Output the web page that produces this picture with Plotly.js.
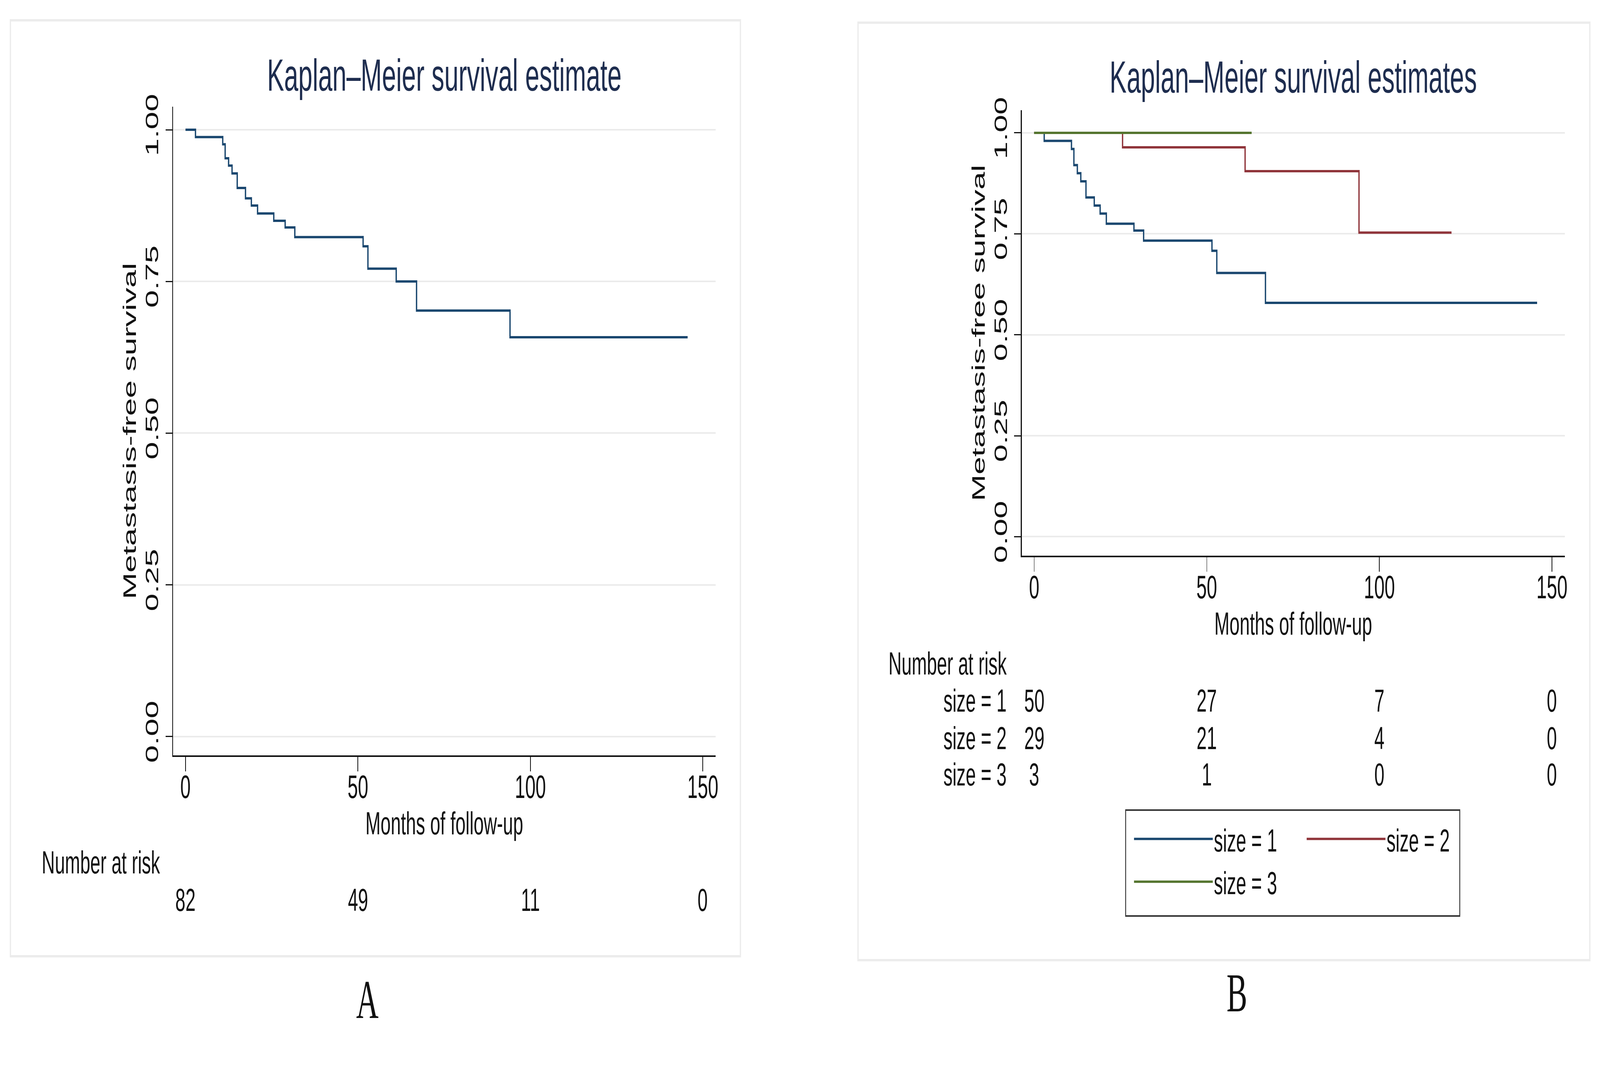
<!DOCTYPE html>
<html>
<head>
<meta charset="utf-8">
<script src="https://cdn.plot.ly/plotly-3.0.1.min.js"></script>
<style>
html,body{margin:0;padding:0;background:#ffffff;overflow:hidden}
#root{position:absolute;left:0;top:0;width:7211px;height:2733px;transform-origin:0 0;background:#ffffff}
#panelA{position:absolute;left:0;top:0;width:3605px;height:2733px}
#panelB{position:absolute;left:3605px;top:0;width:3606px;height:2733px}
</style>
</head>
<body>
<div id="root">
<div id="panelA"></div>
<div id="panelB"></div>
</div>
<script>
// ---------- data ----------
const xTicks = [0, 50, 100, 150];
const xTickText = ['0', '50', '100', '150'];
const yTicks = [0, 0.25, 0.5, 0.75, 1];
const yTickText = ['0.00', '0.25', '0.50', '0.75', '1.00'];

// Panel A: overall Kaplan-Meier estimate
const timeAll = [0, 2.9, 10.8, 11.5, 12.5, 13.5, 15.0, 17.4, 19.1, 20.9, 25.6, 28.9, 31.7, 51.5, 52.9, 61.1, 67.0, 94.1, 145.6];
const survAll = [1, 0.988, 0.976, 0.953, 0.941, 0.928, 0.904, 0.887, 0.875, 0.862, 0.850, 0.839, 0.823, 0.808, 0.771, 0.750, 0.702, 0.658, 0.658];
const riskAll = [82, 49, 11, 0];

// Panel B: by size
const timeSize1 = [0, 2.9, 10.8, 11.5, 12.5, 13.5, 15.0, 17.4, 19.1, 20.9, 28.9, 31.7, 51.5, 52.9, 67.0, 145.7];
const survSize1 = [1, 0.98, 0.96, 0.92, 0.90, 0.88, 0.84, 0.82, 0.80, 0.775, 0.758, 0.733, 0.708, 0.653, 0.579, 0.579];
const timeSize2 = [0, 25.6, 61.1, 94.1, 120.9];
const survSize2 = [1, 0.964, 0.905, 0.753, 0.753];
const timeSize3 = [0, 63.0];
const survSize3 = [1, 1];
const groupNames = ['size = 1', 'size = 2', 'size = 3'];
const riskSize1 = [50, 27, 7, 0];
const riskSize2 = [29, 21, 4, 0];
const riskSize3 = [3, 1, 0, 0];

// ---------- fit the 7211x2733 design into the actual window ----------
(function fit() {
  const W = window.innerWidth || 7211, H = window.innerHeight || 2733;
  const sx = W / 7211, sy = H / 2733;
  if (Math.abs(sx - 1) > 0.002 || Math.abs(sy - 1) > 0.002) {
    document.getElementById('root').style.transform = 'scale(' + sx + ',' + sy + ')';
  }
})();

// ---------- styling ----------
const FONT = 'Liberation Sans, Arial, Helvetica, sans-serif';
const TXT = '#111111';
const TITLE_COL = '#1e2d4f';
const C1 = '#1a476f', C2 = '#90353b', C3 = '#55752f';

function xAxis() {
  return {
    range: [-3.6, 153.7], tickmode: 'array', tickvals: xTicks, ticktext: xTickText,
    ticks: 'outside', ticklen: 37, tickwidth: 3, tickcolor: TXT, ticklabelstandoff: -33,
    showline: true, linewidth: 4, linecolor: TXT, showgrid: false, zeroline: false,
    tickfont: {family: FONT, size: 84, color: TXT},
    title: {text: 'Months of follow-up', font: {family: FONT, size: 82, color: TXT}, standoff: 20},
    automargin: false, fixedrange: true
  };
}
function yAxis(range) {
  return {
    range: range, tickmode: 'array', tickvals: yTicks, ticktext: yTickText, tickangle: -90,
    ticks: 'outside', ticklen: 30, tickwidth: 3, tickcolor: TXT,
    showline: true, linewidth: 4, linecolor: TXT,
    showgrid: true, gridcolor: '#ebebeb', gridwidth: 4, zeroline: false,
    tickfont: {family: FONT, size: 82, color: TXT},
    title: {text: 'Metastasis-free survival', font: {family: FONT, size: 82, color: TXT}, standoff: 0},
    automargin: false, fixedrange: true
  };
}
function ann(xref, x, y, text, xanchor, size, fam) {
  return {xref: xref, yref: 'paper', x: x, y: y, text: text, showarrow: false,
          xanchor: xanchor, yanchor: 'middle',
          font: {family: fam || FONT, size: size || 82, color: TXT}};
}
function border(x0, x1, y0, y1) {
  return {type: 'rect', xref: 'paper', yref: 'paper', x0: x0, x1: x1, y0: y0, y1: y1,
          line: {color: '#ececec', width: 6}, fillcolor: 'rgba(0,0,0,0)', layer: 'below'};
}

// ---------- Panel A ----------
const annA = [ann('paper', -0.243, -0.1645, 'Number at risk', 'left')];
riskAll.forEach((v, i) => annA.push(ann('x', xTicks[i], -0.2223, String(v), 'center')));
annA.push(ann('paper', 0.3579, -0.376, 'A', 'center', 140, 'Liberation Serif, Times New Roman, serif'));

Plotly.newPlot('panelA', [{
  x: timeAll, y: survAll, type: 'scatter', mode: 'lines',
  line: {shape: 'hv', color: C1, width: 6}, showlegend: false, hoverinfo: 'skip'
}], {
  width: 3605, height: 2733,
  margin: {l: 780, r: 380, t: 273, b: 800, pad: 0},
  paper_bgcolor: '#ffffff', plot_bgcolor: '#ffffff',
  font: {family: FONT, color: TXT},
  title: {text: 'Kaplan\u2013Meier survival estimate', font: {family: FONT, size: 115, color: TITLE_COL},
          x: 0.5, xref: 'paper', xanchor: 'center', y: 1 - 192 / 2733, yref: 'container', yanchor: 'middle'},
  xaxis: xAxis(), yaxis: yAxis([-0.031, 1.038]),
  showlegend: false,
  annotations: annA,
  shapes: [border(-0.2998, 1.0458, -0.3096, 1.1331)]
}, {displayModeBar: false, staticPlot: true});

// ---------- Panel B ----------
const annB = [ann('paper', -0.2464, -0.2421, 'Number at risk', 'left')];
const rowsY = [-0.3246, -0.4088, -0.4912];
[riskSize1, riskSize2, riskSize3].forEach((row, r) => {
  annB.push(ann('paper', -0.027, rowsY[r], groupNames[r], 'right'));
  row.forEach((v, i) => annB.push(ann('x', xTicks[i], rowsY[r], String(v), 'center')));
});
annB.push(ann('paper', 0.3964, -0.981, 'B', 'center', 140, 'Liberation Serif, Times New Roman, serif'));

const legStyle = (x) => ({x: x, y: -0.5833, xanchor: 'left', yanchor: 'top', orientation: 'v',
  bgcolor: 'rgba(0,0,0,0)', borderwidth: 0, itemwidth: 355, tracegroupgap: 0,
  font: {family: FONT, size: 82, color: TXT}});

Plotly.newPlot('panelB', [
  {x: timeSize1, y: survSize1, name: groupNames[0], type: 'scatter', mode: 'lines',
   line: {shape: 'hv', color: C1, width: 6}, legend: 'legend', hoverinfo: 'skip'},
  {x: timeSize2, y: survSize2, name: groupNames[1], type: 'scatter', mode: 'lines',
   line: {shape: 'hv', color: C2, width: 6}, legend: 'legend2', hoverinfo: 'skip'},
  {x: timeSize3, y: survSize3, name: groupNames[2], type: 'scatter', mode: 'lines',
   line: {shape: 'hv', color: C3, width: 6}, legend: 'legend', hoverinfo: 'skip'}
], {
  width: 3606, height: 2733,
  margin: {l: 1000, r: 159, t: 282, b: 1311, pad: 0},
  paper_bgcolor: '#ffffff', plot_bgcolor: '#ffffff',
  font: {family: FONT, color: TXT},
  title: {text: 'Kaplan\u2013Meier survival estimates', font: {family: FONT, size: 115, color: TITLE_COL},
          x: 0.5, xref: 'paper', xanchor: 'center', y: 1 - 197 / 2733, yref: 'container', yanchor: 'middle'},
  xaxis: xAxis(), yaxis: yAxis([-0.047, 1.056]),
  showlegend: true,
  legend: legStyle(0.2047),
  legend2: legStyle(0.5227),
  annotations: annB,
  shapes: [
    border(-0.3016, 1.0462, -0.9079, 1.1965),
    {type: 'rect', xref: 'paper', yref: 'paper', x0: 0.1913, x1: 0.8067, y0: -0.8088, y1: -0.5711,
     line: {color: '#333333', width: 4}, fillcolor: 'rgba(0,0,0,0)', layer: 'above'}
  ]
}, {displayModeBar: false, staticPlot: true});
</script>
</body>
</html>
